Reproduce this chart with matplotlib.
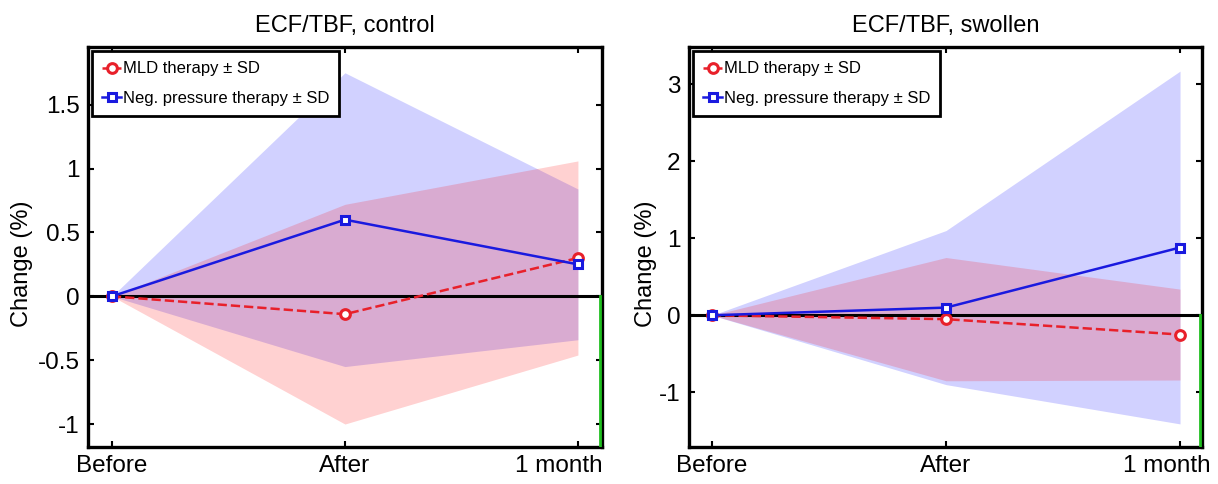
import matplotlib
matplotlib.use("Agg")
import matplotlib.pyplot as plt
from matplotlib.transforms import ScaledTranslation

plt.rcParams['font.family'] = ['Liberation Sans', 'DejaVu Sans']

timepoints = ['Before', 'After', '1 month']

# ECF/TBF, control
control_mld = [0, -0.14, 0.30]
control_mld_sd = [0, 0.86, 0.76]
control_neg = [0, 0.60, 0.25]
control_neg_sd = [0, 1.15, 0.59]

# ECF/TBF, swollen
swollen_mld = [0, -0.05, -0.25]
swollen_mld_sd = [0, 0.80, 0.59]
swollen_neg = [0, 0.10, 0.88]
swollen_neg_sd = [0, 1.00, 2.29]

control_yticks = [-1, -0.5, 0, 0.5, 1, 1.5]
control_ylabels = ['-1', '-0.5', '0', '0.5', '1', '1.5']
swollen_yticks = [-1, 0, 1, 2, 3]
swollen_ylabels = ['-1', '0', '1', '2', '3']


def draw_panel(ax, title, mld, mld_sd, neg, neg_sd, ylim, xlim, yticks, ylabels,
               ylabel_x, last_shift):
    x = list(range(len(timepoints)))
    neg_lo = [m - s for m, s in zip(neg, neg_sd)]
    neg_hi = [m + s for m, s in zip(neg, neg_sd)]
    mld_lo = [m - s for m, s in zip(mld, mld_sd)]
    mld_hi = [m + s for m, s in zip(mld, mld_sd)]
    ax.fill_between(x, neg_lo, neg_hi, color='blue', alpha=0.18, lw=0)
    ax.fill_between(x, mld_lo, mld_hi, color='red', alpha=0.18, lw=0)
    ax.axhline(0, color='black', lw=2.2, zorder=2)
    ax.plot(x, mld, color='#e8202a', ls='--', lw=1.8, marker='o', ms=7,
            mfc='white', mew=2.2, label='MLD therapy \u00b1 SD', zorder=3)
    ax.plot(x, neg, color='#1a1adf', ls='-', lw=1.8, marker='s', ms=6,
            mfc='white', mew=2.2, label='Neg. pressure therapy \u00b1 SD', zorder=4)
    ax.plot([xlim[1] - 0.008] * 2, [0, ylim[0]], color='#1fbf1f', lw=2, zorder=5)
    ax.set_xlim(xlim)
    ax.set_ylim(ylim)
    ax.set_xticks(x)
    ax.set_xticklabels(timepoints, fontsize=17.5)
    ax.set_yticks(yticks)
    ax.set_yticklabels(ylabels, fontsize=17.5)
    ax.tick_params(direction='in', top=True, right=True, length=4, width=1.5, pad=6)
    # keep the last label inside the frame, as in the original
    lab = ax.get_xticklabels()[-1]
    lab.set_transform(lab.get_transform() +
                      ScaledTranslation(-last_shift / 100, 0, ax.figure.dpi_scale_trans))
    for sp in ax.spines.values():
        sp.set_linewidth(2.4)
    ax.set_ylabel('Change (%)', fontsize=17)
    ax.yaxis.set_label_coords(ylabel_x, 0.4575)
    ax.set_title(title, fontsize=17, pad=11)
    leg = ax.legend(loc='upper left', fontsize=12, fancybox=False, framealpha=1,
                    edgecolor='black', handlelength=1.15, handletextpad=0.08,
                    borderaxespad=0.25, borderpad=0.6, labelspacing=0.85)
    leg.get_frame().set_linewidth(2)


fig = plt.figure(figsize=(12.18, 4.84), dpi=100)
ax1 = fig.add_axes([0.0722, 0.0764, 0.422, 0.826])
ax2 = fig.add_axes([0.5657, 0.0764, 0.4212, 0.826])

draw_panel(ax1, 'ECF/TBF, control', control_mld, control_mld_sd, control_neg, control_neg_sd,
           (-1.18, 1.95), (-0.103, 2.103), control_yticks, control_ylabels, -0.107, 19)
draw_panel(ax2, 'ECF/TBF, swollen', swollen_mld, swollen_mld_sd, swollen_neg, swollen_neg_sd,
           (-1.71, 3.48), (-0.098, 2.094), swollen_yticks, swollen_ylabels, -0.062, 13)

fig.savefig('out.png', dpi=100)
